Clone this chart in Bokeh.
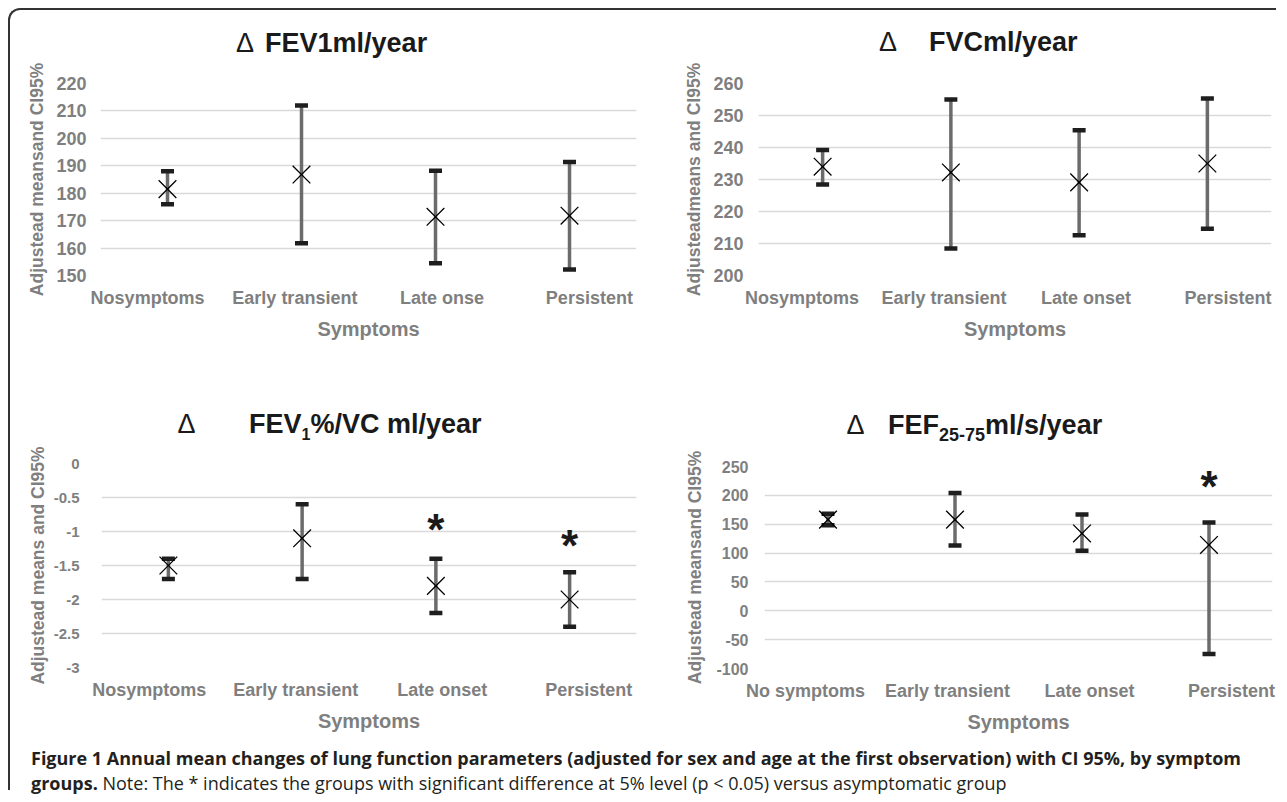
from bokeh.plotting import figure
from bokeh.models import FactorRange, Range1d, CategoricalAxis, FixedTicker, Div
from bokeh.layouts import row, column
from bokeh.embed import file_html
from bokeh.resources import INLINE
from bokeh.core.properties import value

# ---------------- data ----------------
cats_fev1 = ["Nosymptoms", "Early transient", "Late onse", "Persistent"]
cats_fvc = ["Nosymptoms", "Early transient", "Late onset", "Persistent"]
cats_ratio = ["Nosymptoms", "Early transient", "Late onset", "Persistent"]
cats_fef = ["No symptoms", "Early transient", "Late onset", "Persistent"]

fev1_mean = [181.5, 186.8, 171.4, 171.8]
fev1_low = [176.0, 161.8, 154.5, 152.2]
fev1_high = [188.0, 212.0, 188.2, 191.4]
fev1_ticks = [150, 160, 170, 180, 190, 200, 210, 220]

fvc_mean = [234.0, 232.2, 229.1, 235.0]
fvc_low = [228.4, 208.4, 212.6, 214.6]
fvc_high = [239.2, 255.0, 245.4, 255.3]
fvc_ticks = [200, 210, 220, 230, 240, 250, 260]

ratio_mean = [-1.5, -1.1, -1.8, -2.0]
ratio_low = [-1.7, -1.7, -2.2, -2.4]
ratio_high = [-1.4, -0.6, -1.4, -1.6]
ratio_star = [None, None, -0.93, -1.16]
ratio_ticks = [-3, -2.5, -2, -1.5, -1, -0.5, 0]

fef_mean = [158.0, 158.0, 134.0, 114.0]
fef_low = [148.0, 113.0, 104.0, -75.0]
fef_high = [168.0, 204.0, 167.0, 153.0]
fef_star = [None, None, None, 220.0]
fef_ticks = [-100, -50, 0, 50, 100, 150, 200, 250]

GRAY = "#7f7f7f"
FONT = "Liberation Sans"


def title_div(main_html, width, height, pad_top, pad_left, gap):
    html = (
        f'<div style="white-space:nowrap;font-family:\'Liberation Sans\';'
        f'font-size:27px;line-height:30px;color:#1a1a1a;'
        f'padding:{pad_top}px 0 0 {pad_left}px;">'
        f'<span style="display:inline-block;margin-right:{gap}px;">\u0394</span>'
        f'<b>{main_html}</b></div>'
    )
    return Div(text=html, width=width, height=height, margin=0)


def panel(cats, mean, low, high, ticks, stars, ylabel,
          width, height, bl, br, bt, bb, label_pad,
          tick_size, ytick_standoff, ylab_standoff, xlab_standoff):
    p = figure(width=width, height=height, x_range=FactorRange(*cats),
               y_range=Range1d(ticks[0], ticks[-1]), x_axis_location=None,
               output_backend="svg", toolbar_location=None,
               min_border_left=bl, min_border_right=br,
               min_border_top=bt, min_border_bottom=bb,
               background_fill_color="white", border_fill_color="white")
    p.outline_line_color = None
    p.xgrid.visible = False
    p.ygrid.ticker = FixedTicker(ticks=ticks)
    p.ygrid.grid_line_color = "#d9d9d9"
    p.ygrid.grid_line_width = 1.4

    p.yaxis.ticker = FixedTicker(ticks=ticks)
    p.yaxis.major_label_overrides = {t: f"{t:g}" for t in ticks}
    p.yaxis.axis_line_color = None
    p.yaxis.major_tick_line_color = None
    p.yaxis.minor_tick_line_color = None
    p.yaxis.major_tick_out = 0
    p.yaxis.major_label_standoff = ytick_standoff
    p.yaxis.major_label_text_font = FONT
    p.yaxis.major_label_text_font_style = "bold"
    p.yaxis.major_label_text_font_size = tick_size
    p.yaxis.major_label_text_color = GRAY
    p.yaxis.axis_label = ylabel
    p.yaxis.axis_label_text_font = FONT
    p.yaxis.axis_label_text_font_style = "bold"
    p.yaxis.axis_label_text_font_size = "17.5px"
    p.yaxis.axis_label_text_color = GRAY
    p.yaxis.axis_label_standoff = ylab_standoff

    # category labels on a slightly wider spread, as in the reference
    p.extra_x_ranges = {"lab": FactorRange(*cats, range_padding=label_pad)}
    ax = CategoricalAxis(x_range_name="lab", axis_label="Symptoms")
    ax.axis_line_color = None
    ax.major_tick_line_color = None
    ax.minor_tick_line_color = None
    ax.major_tick_out = 0
    ax.major_label_standoff = 12
    ax.major_label_text_font = FONT
    ax.major_label_text_font_style = "bold"
    ax.major_label_text_font_size = "18px"
    ax.major_label_text_color = GRAY
    ax.axis_label_text_font = FONT
    ax.axis_label_text_font_style = "bold"
    ax.axis_label_text_font_size = "20px"
    ax.axis_label_text_color = GRAY
    ax.axis_label_standoff = xlab_standoff
    p.add_layout(ax, "below")

    # error bars
    p.segment(x0=cats, y0=low, x1=cats, y1=high, line_color="#6b6b6b",
              line_width=3.5)
    p.scatter(x=cats, y=low, marker="dash", size=13, line_width=4.5,
              line_color="#1e1e1e")
    p.scatter(x=cats, y=high, marker="dash", size=13, line_width=4.5,
              line_color="#1e1e1e")
    # means
    p.scatter(x=cats, y=mean, marker="x", size=25, line_width=1.3,
              line_color="#000000")
    # significance stars
    sx = [c for c, s in zip(cats, stars) if s is not None]
    sy = [s for s in stars if s is not None]
    if sx:
        p.text(x=sx, y=sy, text=["*"] * len(sx), text_align="center",
               text_baseline="middle", text_font=value(FONT),
               text_font_style="bold", text_font_size="44px",
               text_color="#1a1a1a", y_offset=3)
    return p


SUB = '<span style="font-size:{}px;line-height:1;vertical-align:-7px;">{}</span>'

tl_t = title_div("FEV1ml/year", 630, 48, 17.6, 226, 11)
tl = panel(cats_fev1, fev1_mean, fev1_low, fev1_high, fev1_ticks, [None] * 4,
           "Adjustead meansand CI95%",
           630, 322, 90, 4, 25, 105, -0.09, "18px", 14, 6, 7)

tr_t = title_div("FVCml/year", 636, 48, 17.3, 239, 32)
tr = panel(cats_fvc, fvc_mean, fvc_low, fvc_high, fvc_ticks, [None] * 4,
           "Adjusteadmeans and CI95%",
           636, 322, 118, 5, 25, 105, -0.097, "18px", 15, 6, 7)

bl_t = title_div("FEV" + SUB.format(16, "1") + "%/VC ml/year", 630, 61, 28.9, 167.5, 53.5)
bl = panel(cats_ratio, ratio_mean, ratio_low, ratio_high, ratio_ticks, ratio_star,
           "Adjustead means and CI95%",
           630, 294, 91, 4, 22, 68, -0.087, "15px", 22, 3, 7)

br_t = title_div("FEF" + SUB.format(18, "25-75") + "ml/s/year", 636, 66, 29.6, 206.6, 23.4)
br = panel(cats_fef, fef_mean, fef_low, fef_high, fef_ticks, fef_star,
           "Adjustead meansand CI95%",
           636, 289, 124, 4, 20, 65, -0.106, "16px", 16, 8, 7)

caption = Div(
    text=(
        '<div style="font-family:\'Open Sans\';font-size:18px;line-height:24.5px;'
        'color:#231f20;white-space:nowrap;padding:11px 0 0 21px;">'
        '<b>Figure 1 Annual mean changes of lung function parameters (adjusted for sex '
        'and age at the first observation) with CI 95%, by symptom</b><br>'
        '<b>groups.</b> Note: The * indicates the groups with significant difference at '
        '5% level (p &lt; 0.05) versus asymptomatic group</div>'
    ),
    width=1250, height=55, margin=0,
)

layout = column(
    row(column(tl_t, tl), column(tr_t, tr)),
    row(column(bl_t, bl), column(br_t, br)),
    caption,
    margin=(8, 0, 0, 8),
    styles={"border-top": "2px solid #333333", "border-left": "2px solid #333333",
            "border-top-left-radius": "12px", "background-color": "white"},
)

open("out.html", "w").write(file_html(layout, INLINE))
